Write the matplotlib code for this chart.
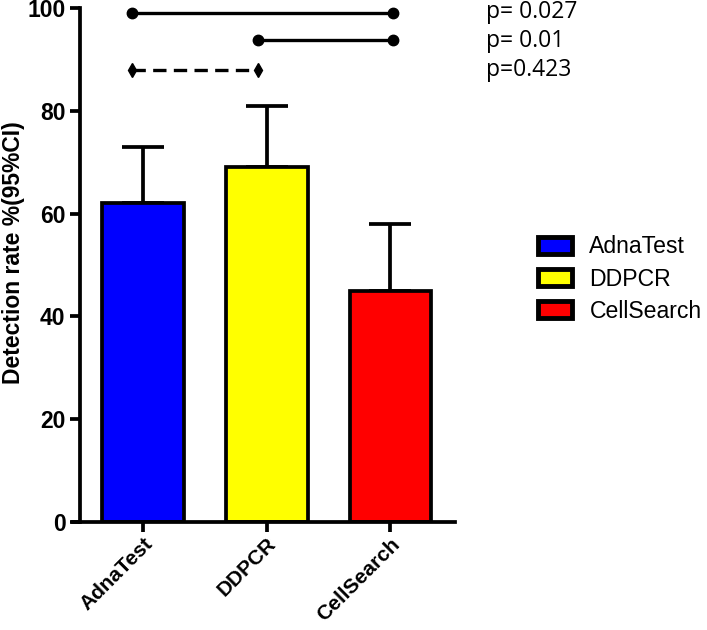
import matplotlib
matplotlib.use("Agg")
import matplotlib.pyplot as plt
from matplotlib.patches import Patch

# data
methods = ["AdnaTest", "DDPCR", "CellSearch"]
rates = [62, 69, 45]
upper_ci = [73, 81, 58]
bar_colors = ["#0000ff", "#ffff00", "#ff0000"]

# comparison brackets: (x start, x end, height, style, marker)
bracket_x0 = [-0.09, 0.93, -0.09]
bracket_x1 = [2.02, 2.02, 0.93]
bracket_y = [99, 93.7, 88]
bracket_style = ["-", "-", "--"]
bracket_marker = ["o", "o", "d"]
p_labels = ["p= 0.027", "p= 0.01", "p=0.423"]

plt.rcParams["font.family"] = ["Liberation Sans", "DejaVu Sans"]

fig = plt.figure(figsize=(7.07, 6.30), dpi=100)
ax = fig.add_axes([0.1132, 0.1714, 0.530, 0.816])

lw = 2.7
x = list(range(len(methods)))
err = [u - r for u, r in zip(upper_ci, rates)]
ax.bar(x, rates, width=0.66, color=bar_colors, edgecolor="black", linewidth=lw, zorder=2)
ax.errorbar(x, rates, yerr=[[0] * len(err), err], fmt="none", ecolor="black",
            elinewidth=lw, capsize=15, capthick=lw, zorder=1)

for x0, x1, y, ls, mk in zip(bracket_x0, bracket_x1, bracket_y, bracket_style, bracket_marker):
    ax.plot([x0, x1], [y, y], color="black", linestyle=ls, linewidth=2.4,
            marker=mk, markersize=7.5, clip_on=False, dashes=(4, 2.2) if ls == "--" else (None, None))

for i, lab in enumerate(p_labels):
    fig.text(0.687, 0.981 - i * 0.0462, lab, fontsize=16.5, family=["Open Sans", "DejaVu Sans"],
             va="center", ha="left")

ax.set_xlim(-0.51, 2.52)
ax.set_ylim(0, 100)
ax.set_yticks([0, 20, 40, 60, 80, 100])
ax.set_xticks(x)
ax.set_xticklabels(methods, rotation=45, ha="right", rotation_mode="anchor")
ax.tick_params(axis="both", direction="out", length=7, width=lw, labelsize=16.5)
ax.tick_params(axis="x", pad=2, labelsize=15)
for lab in ax.get_xticklabels() + ax.get_yticklabels():
    lab.set_fontweight("bold")
ax.set_ylabel("Detection rate %(95%CI)", fontsize=16.5, fontweight="bold")
ax.yaxis.set_label_coords(-0.147, 0.525)

for side in ["top", "right"]:
    ax.spines[side].set_visible(False)
ax.spines["left"].set_linewidth(lw)
ax.spines["bottom"].set_linewidth(lw)
ax.spines["bottom"].set_bounds(-0.565, 2.52)

handles = [Patch(facecolor=c, edgecolor="black", linewidth=3.5, label=m)
           for c, m in zip(bar_colors, methods)]
fig.legend(handles=handles, loc="center left", bbox_to_anchor=(0.731, 0.557),
           frameon=False, fontsize=16.6, handlelength=1.5, handleheight=0.75,
           handletextpad=0.75, labelspacing=0.4)

fig.savefig("out.png", dpi=100)
